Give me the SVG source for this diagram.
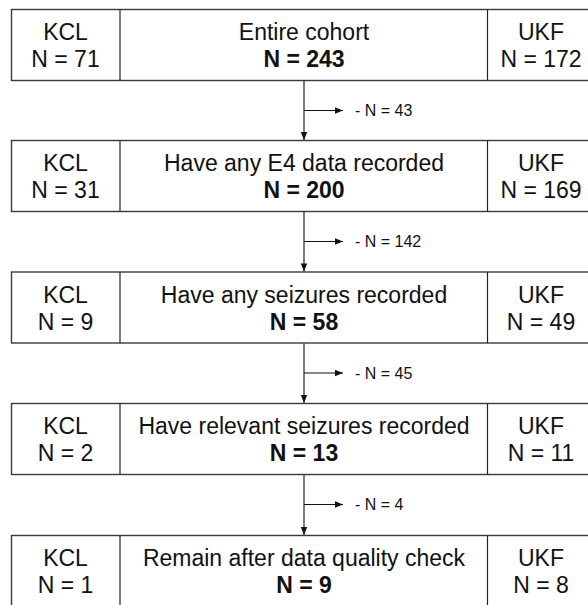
<svg xmlns="http://www.w3.org/2000/svg" width="588" height="605" viewBox="0 0 588 605">
<style>
.box{fill:#fff;stroke:#3a3a3a;stroke-width:1.4}
.div{stroke:#222;stroke-width:1.2}
.t{font-family:"Liberation Sans",Arial,sans-serif;font-size:23px;fill:#111;text-anchor:middle}
.b{font-weight:bold}
.s{font-family:"Liberation Sans",Arial,sans-serif;font-size:16px;fill:#111}
.c{stroke:#111;stroke-width:1.1;fill:none}
</style>
<defs>
<marker id="ah" viewBox="0 0 10 10" refX="10" refY="5" markerWidth="10" markerHeight="8" markerUnits="userSpaceOnUse" orient="auto">
<path d="M0,1 L10,5 L0,9 z" fill="#111"/>
</marker>
</defs>
<g id="node1">
<rect class="box" x="11.5" y="9.5" width="590" height="71"/>
<line class="div" x1="120" y1="9.5" x2="120" y2="80.5"/>
<line class="div" x1="487.5" y1="9.5" x2="487.5" y2="80.5"/>
<text class="t" x="65.5" y="40">KCL</text><text class="t" x="65.5" y="67">N = 71</text>
<text class="t" x="304" y="40">Entire cohort</text><text class="t b" x="304" y="67">N = 243</text>
<text class="t" x="541" y="40">UKF</text><text class="t" x="541" y="67">N = 172</text>
</g>
<g id="node2">
<rect class="box" x="11.5" y="140.5" width="590" height="71"/>
<line class="div" x1="120" y1="140.5" x2="120" y2="211.5"/>
<line class="div" x1="487.5" y1="140.5" x2="487.5" y2="211.5"/>
<text class="t" x="65.5" y="171">KCL</text><text class="t" x="65.5" y="198">N = 31</text>
<text class="t" x="304" y="171">Have any E4 data recorded</text><text class="t b" x="304" y="198">N = 200</text>
<text class="t" x="541" y="171">UKF</text><text class="t" x="541" y="198">N = 169</text>
</g>
<g id="node3">
<rect class="box" x="11.5" y="272" width="590" height="71"/>
<line class="div" x1="120" y1="272" x2="120" y2="343"/>
<line class="div" x1="487.5" y1="272" x2="487.5" y2="343"/>
<text class="t" x="65.5" y="302.5">KCL</text><text class="t" x="65.5" y="329.5">N = 9</text>
<text class="t" x="304" y="302.5">Have any seizures recorded</text><text class="t b" x="304" y="329.5">N = 58</text>
<text class="t" x="541" y="302.5">UKF</text><text class="t" x="541" y="329.5">N = 49</text>
</g>
<g id="node4">
<rect class="box" x="11.5" y="403.5" width="590" height="71"/>
<line class="div" x1="120" y1="403.5" x2="120" y2="474.5"/>
<line class="div" x1="487.5" y1="403.5" x2="487.5" y2="474.5"/>
<text class="t" x="65.5" y="434">KCL</text><text class="t" x="65.5" y="461">N = 2</text>
<text class="t" x="304" y="434">Have relevant seizures recorded</text><text class="t b" x="304" y="461">N = 13</text>
<text class="t" x="541" y="434">UKF</text><text class="t" x="541" y="461">N = 11</text>
</g>
<g id="node5">
<rect class="box" x="11.5" y="535.5" width="590" height="90"/>
<line class="div" x1="120" y1="535.5" x2="120" y2="610"/>
<line class="div" x1="487.5" y1="535.5" x2="487.5" y2="610"/>
<text class="t" x="65.5" y="566">KCL</text><text class="t" x="65.5" y="593">N = 1</text>
<text class="t" x="304" y="566">Remain after data quality check</text><text class="t b" x="304" y="593">N = 9</text>
<text class="t" x="541" y="566">UKF</text><text class="t" x="541" y="593">N = 8</text>
</g>
<g id="connectors">
<line class="c" x1="304" y1="81" x2="304" y2="140" marker-end="url(#ah)"/>
<line class="c" x1="304" y1="110.5" x2="343" y2="110.5" marker-end="url(#ah)"/>
<text class="s" x="355" y="116">- N = 43</text>
<line class="c" x1="304" y1="212" x2="304" y2="271.5" marker-end="url(#ah)"/>
<line class="c" x1="304" y1="241.5" x2="343" y2="241.5" marker-end="url(#ah)"/>
<text class="s" x="355" y="247">- N = 142</text>
<line class="c" x1="304" y1="343.5" x2="304" y2="403" marker-end="url(#ah)"/>
<line class="c" x1="304" y1="373" x2="343" y2="373" marker-end="url(#ah)"/>
<text class="s" x="355" y="378.5">- N = 45</text>
<line class="c" x1="304" y1="475" x2="304" y2="535" marker-end="url(#ah)"/>
<line class="c" x1="304" y1="504.5" x2="343" y2="504.5" marker-end="url(#ah)"/>
<text class="s" x="355" y="510">- N = 4</text>
</g>
</svg>
